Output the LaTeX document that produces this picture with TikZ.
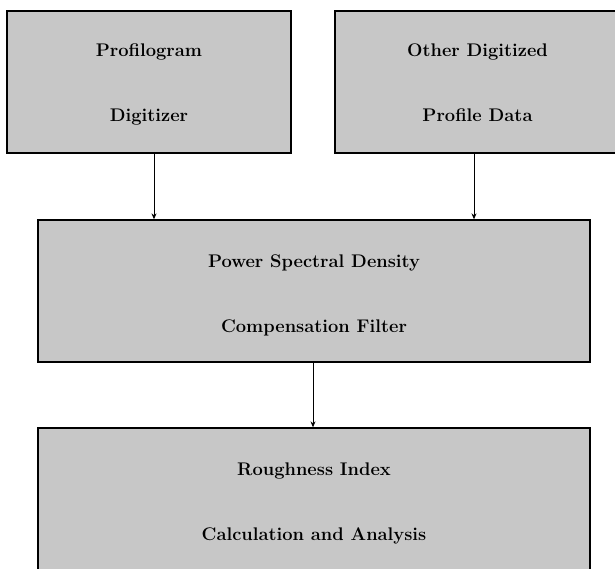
\documentclass[tikz,border=0pt]{standalone}
\usetikzlibrary{arrows.meta}
\begin{document}
\begin{tikzpicture}[x=1pt,y=-1pt,
  box/.style={draw=black, line width=1.3pt, fill=black!22, inner sep=0pt},
  lbl/.style={font=\fontsize{18.3}{20}\selectfont\bfseries, inner sep=0pt, anchor=base},
  conn/.style={line width=1pt, -{Stealth[length=6pt,width=5pt]}}]
\useasboundingbox (0,0) rectangle (615,569);
\begin{scope}
\clip (0,0) rectangle (615,569);
\node[box, minimum width=284pt, minimum height=142pt] (b1) at (149,82) {};
\node[box, minimum width=285pt, minimum height=142pt] (b2) at (477.5,82) {};
\node[box, minimum width=552pt, minimum height=142pt] (b3) at (314,291) {};
\node[box, minimum width=552pt, minimum height=200pt] (b4) at (314,528) {};
\end{scope}
\node[lbl] (t1a) at (149,57) {Profilogram};
\node[lbl] (t1b) at (149,122) {Digitizer};
\node[lbl] (t2a) at (477.5,57) {Other Digitized};
\node[lbl] (t2b) at (477.5,122) {Profile Data};
\node[lbl] (t3a) at (314,267) {Power Spectral Density};
\node[lbl] (t3b) at (314,332) {Compensation Filter};
\node[lbl] (t4a) at (314,475) {Roughness Index};
\node[lbl] (t4b) at (314,540) {Calculation and Analysis};
\draw[conn] (b1.south -| 154,0) -- (b3.north -| 154,0);
\draw[conn] (b2.south -| 474,0) -- (b3.north -| 474,0);
\draw[conn] (b3.south -| 313,0) -- (b4.north -| 313,0);
\end{tikzpicture}
\end{document}
